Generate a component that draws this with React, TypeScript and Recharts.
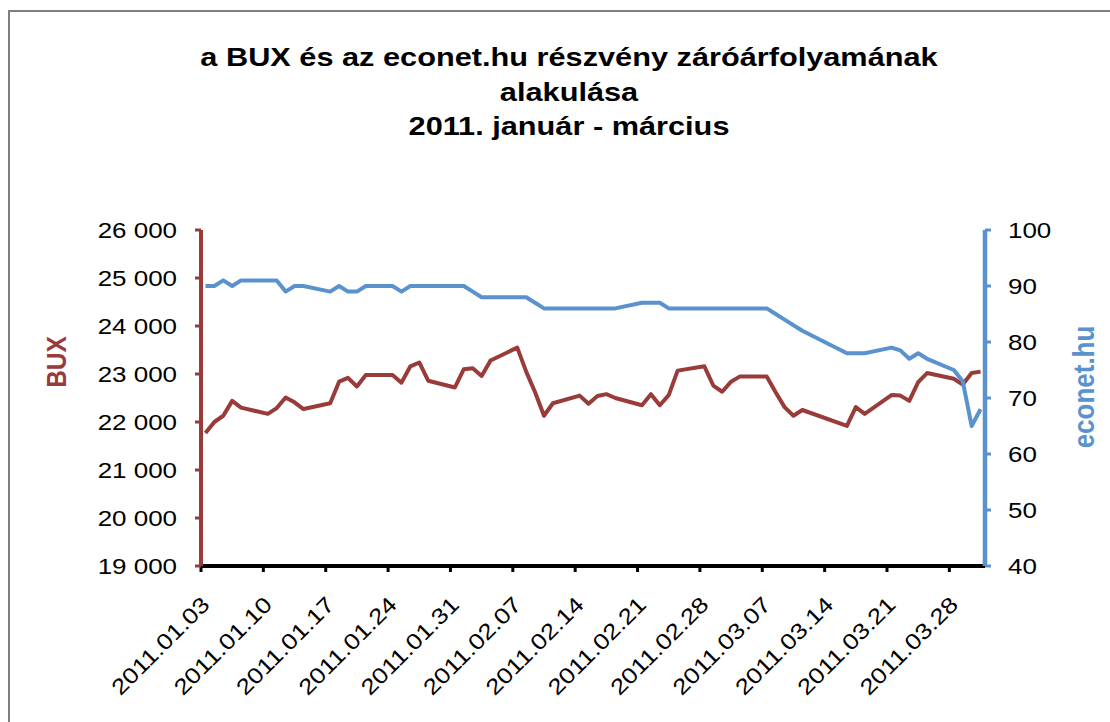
import React from 'react';
import { LineChart, Line, XAxis, YAxis } from 'recharts';

const DATES = [
  '2011.01.03', '2011.01.04', '2011.01.05', '2011.01.06', '2011.01.07',
  '2011.01.10', '2011.01.11', '2011.01.12', '2011.01.13', '2011.01.14',
  '2011.01.17', '2011.01.18', '2011.01.19', '2011.01.20', '2011.01.21',
  '2011.01.24', '2011.01.25', '2011.01.26', '2011.01.27', '2011.01.28',
  '2011.01.31', '2011.02.01', '2011.02.02', '2011.02.03', '2011.02.04',
  '2011.02.07', '2011.02.08', '2011.02.09', '2011.02.10', '2011.02.11',
  '2011.02.14', '2011.02.15', '2011.02.16', '2011.02.17', '2011.02.18',
  '2011.02.21', '2011.02.22', '2011.02.23', '2011.02.24', '2011.02.25',
  '2011.02.28', '2011.03.01', '2011.03.02', '2011.03.03', '2011.03.04',
  '2011.03.07', '2011.03.08', '2011.03.09', '2011.03.10', '2011.03.11',
  '2011.03.16', '2011.03.17', '2011.03.18',
  '2011.03.21', '2011.03.22', '2011.03.23', '2011.03.24', '2011.03.25',
  '2011.03.28', '2011.03.29', '2011.03.30', '2011.03.31',
];

const BUX = [
  21770, 22000, 22130, 22440, 22300,
  22170, 22290, 22510, 22410, 22270,
  22390, 22840, 22920, 22740, 22980,
  22980, 22820, 23160, 23240, 22860,
  22720, 23100, 23120, 22960, 23280,
  23550, 23050, 22620, 22130, 22390,
  22550, 22380, 22540, 22580, 22500,
  22350, 22580, 22350, 22560, 23070,
  23160, 22760, 22630, 22840, 22950,
  22950, 22620, 22310, 22130, 22250,
  21920, 22310, 22170,
  22560, 22550, 22440, 22830, 23020,
  22900, 22780, 23020, 23050,
];

const ECONET = [
  90, 90, 91, 90, 91,
  91, 91, 89, 90, 90,
  89, 90, 89, 89, 90,
  90, 89, 90, 90, 90,
  90, 90, 89, 88, 88,
  88, 88, 87, 86, 86,
  86, 86, 86, 86, 86,
  87, 87, 87, 86, 86,
  86, 86, 86, 86, 86,
  86, 85, 84, 83, 82,
  78, 78, 78,
  79, 78.5, 77, 78, 77,
  75, 73, 65, 68,
];

const TICK_LABELS = [
  '2011.01.03', '2011.01.10', '2011.01.17', '2011.01.24', '2011.01.31',
  '2011.02.07', '2011.02.14', '2011.02.21', '2011.02.28', '2011.03.07',
  '2011.03.14', '2011.03.21', '2011.03.28',
];
const AXIS_END_LABEL = '2011.04.01';

const BUX_TICKS = [19000, 20000, 21000, 22000, 23000, 24000, 25000, 26000];
const ECONET_TICKS = [40, 50, 60, 70, 80, 90, 100];

const TITLE_LINES = [
  'a BUX és az econet.hu részvény záróárfolyamának',
  'alakulása',
  '2011. január - március',
];
const LEFT_TITLE = 'BUX';
const RIGHT_TITLE = 'econet.hu';

const RED = '#993b39';
const BLUE = '#5a92cd';
const FONT = '"Liberation Sans", Arial, Helvetica, sans-serif';
const SX = 1.18;

const START = Date.UTC(2011, 0, 3);
const dayOf = (s: string) => {
  const [y, m, d] = s.split('.').map(Number);
  return Math.round((Date.UTC(y, m - 1, d) - START) / 86400000);
};

// Excel date axis: each day occupies one slot, the point sits mid-slot
const data = DATES.map((s, i) => ({ t: dayOf(s) + 0.5, bux: BUX[i], econet: ECONET[i] }));
const TICK_DAYS = TICK_LABELS.map(dayOf);
const labelByDay: Record<number, string> = {};
TICK_LABELS.forEach((l, i) => { labelByDay[TICK_DAYS[i]] = l; });

const fmtThousands = (v: number) => {
  const s = String(Math.round(v));
  return s.length > 3 ? s.slice(0, s.length - 3) + ' ' + s.slice(s.length - 3) : s;
};

const LeftTick = (props: any) => {
  const { x, y, payload } = props;
  return (
    <text transform={`translate(${x},${y + 8}) scale(${SX},1)`} textAnchor="end"
      fontFamily={FONT} fontSize={22} fill="#000">{fmtThousands(payload.value)}</text>
  );
};

const RightTick = (props: any) => {
  const { x, y, payload } = props;
  return (
    <text transform={`translate(${x},${y + 8}) scale(${SX},1)`} textAnchor="start"
      fontFamily={FONT} fontSize={22} fill="#000">{String(payload.value)}</text>
  );
};

const BottomTick = (props: any) => {
  const { x, y, payload } = props;
  return (
    <text transform={`translate(${x + 10},${y}) rotate(-45) scale(${SX},1)`} textAnchor="end"
      fontFamily={FONT} fontSize={22} fill="#000">{labelByDay[payload.value] ?? ''}</text>
  );
};

export default function App() {
  return (
    <div style={{ position: 'fixed', left: 0, top: 0, width: 1110, height: 722, overflow: 'hidden', background: '#fff' }}>
      <div style={{ position: 'absolute', left: 8, top: 10, width: 1200, height: 800, border: '2px solid #7f7f7f', boxSizing: 'border-box' }} />
      <div style={{ position: 'absolute', left: 0, top: 0 }}>
        <LineChart width={1110} height={722} data={data} margin={{ top: 230, right: 0, bottom: 0, left: 0 }}>
          <XAxis
            dataKey="t"
            type="number"
            domain={[0, dayOf(AXIS_END_LABEL)]}
            ticks={TICK_DAYS}
            interval={0}
            height={156}
            axisLine={{ stroke: '#000', strokeWidth: 4 }}
            tickLine={{ stroke: '#000', strokeWidth: 3 }}
            tickSize={6}
            tickMargin={34}
            tick={BottomTick}
          />
          <YAxis
            yAxisId="bux"
            orientation="left"
            domain={[19000, 26000]}
            ticks={BUX_TICKS}
            interval={0}
            width={201}
            axisLine={{ stroke: RED, strokeWidth: 4 }}
            tickLine={{ stroke: RED, strokeWidth: 3 }}
            tickSize={6}
            tickMargin={18}
            tick={LeftTick}
          />
          <YAxis
            yAxisId="econet"
            orientation="right"
            domain={[40, 100]}
            ticks={ECONET_TICKS}
            interval={0}
            width={125}
            axisLine={{ stroke: BLUE, strokeWidth: 4.5 }}
            tickLine={{ stroke: BLUE, strokeWidth: 3 }}
            tickSize={6}
            tickMargin={17}
            tick={RightTick}
          />
          <Line yAxisId="bux" type="linear" dataKey="bux" stroke={RED} strokeWidth={4}
            dot={false} activeDot={false} isAnimationActive={false} strokeLinejoin="round" />
          <Line yAxisId="econet" type="linear" dataKey="econet" stroke={BLUE} strokeWidth={4}
            dot={false} activeDot={false} isAnimationActive={false} strokeLinejoin="round" />
        </LineChart>
      </div>
      <svg width={1110} height={722} style={{ position: 'absolute', left: 0, top: 0, pointerEvents: 'none' }}>
        {TITLE_LINES.map((line, i) => (
          <text key={i} transform={`translate(569,${66 + i * 34.5}) scale(1.2,1)`} textAnchor="middle"
            fontFamily={FONT} fontWeight="bold" fontSize={25.6} fill="#000">{line}</text>
        ))}
        <text transform={`translate(66,362) scale(1.15,1) rotate(-90)`} textAnchor="middle"
          fontFamily={FONT} fontWeight="bold" fontSize={24.5} fill={RED}>{LEFT_TITLE}</text>
        <text transform={`translate(1094,387) scale(1.15,1) rotate(-90)`} textAnchor="middle"
          fontFamily={FONT} fontWeight="bold" fontSize={26} fill={BLUE}>{RIGHT_TITLE}</text>
      </svg>
    </div>
  );
}
